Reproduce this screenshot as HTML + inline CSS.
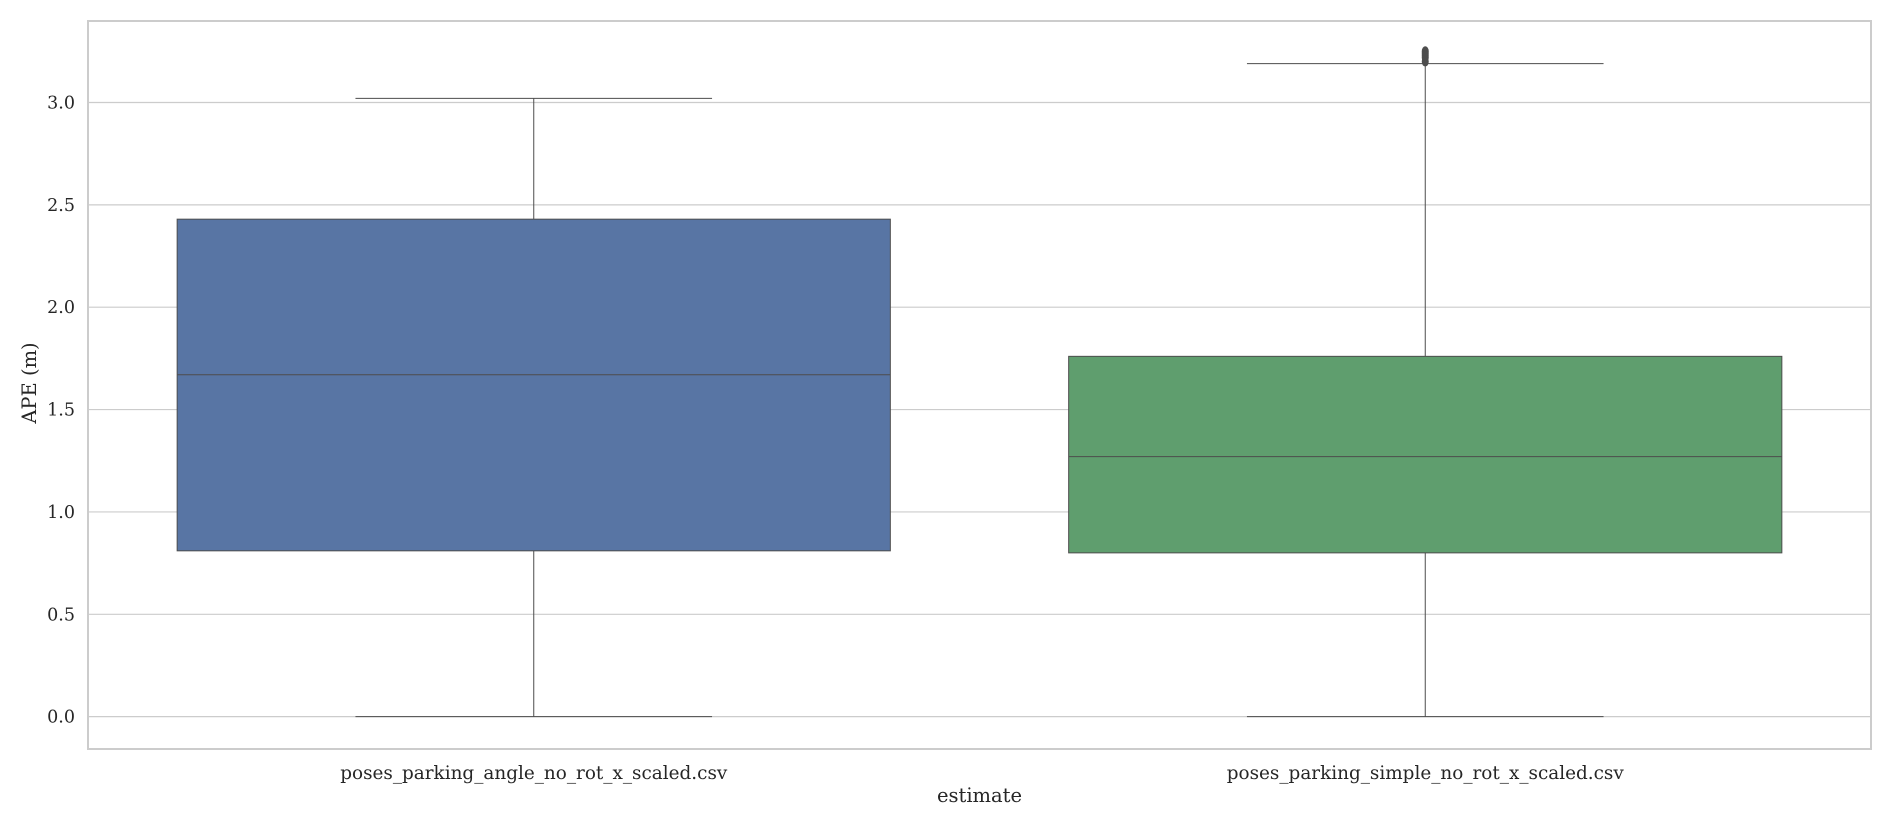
<!DOCTYPE html>
<html><head><meta charset="utf-8"><style>
html,body{margin:0;padding:0;background:#fff;}
svg{display:block;font-family:"DejaVu Serif","Liberation Serif",serif;}
</style></head><body>
<svg id="chart" width="1894" height="828" viewBox="0 0 1894 828" xmlns="http://www.w3.org/2000/svg"></svg>
<script>
const categories = ["poses_parking_angle_no_rot_x_scaled.csv", "poses_parking_simple_no_rot_x_scaled.csv"];
const q1Values = [0.81, 0.80];
const medianValues = [1.67, 1.27];
const q3Values = [2.43, 1.76];
const whiskerLow = [0.0, 0.0];
const whiskerHigh = [3.02, 3.19];
const outlierValues = [[], [3.20, 3.22, 3.23, 3.24, 3.25]];
const boxColors = ["#5875a4", "#5f9e6e"];
const yTicks = [0.0, 0.5, 1.0, 1.5, 2.0, 2.5, 3.0];

const svg = document.getElementById('chart');
const NS = 'http://www.w3.org/2000/svg';
const L = 88, R = 1871, T = 21, B = 749;
const yMin = -0.158, yMax = 3.398;
function yS(v){ return B - (v - yMin) / (yMax - yMin) * (B - T); }
const band = (R - L) / categories.length;
function xS(i){ return L + band * (i + 0.5); }
function mk(tag, attrs){ const e = document.createElementNS(NS, tag); for (const k in attrs) e.setAttribute(k, attrs[k]); svg.appendChild(e); return e; }

const frame = mk('rect', {x:L, y:T, width:R-L, height:B-T, fill:'#fff', stroke:'#cccccc', 'stroke-width':2});



yTicks.forEach(v => {
  const g = mk('line', {x1:L, x2:R, y1:yS(v), y2:yS(v), stroke:'#cccccc', 'stroke-width':1.2});
  
  
  const t = mk('text', {x:75, y:yS(v)+6, 'text-anchor':'end', 'font-size':17.5, fill:'#262626'});
  t.textContent = v.toFixed(1);
  
  
});

const bw = band * 0.8;
categories.forEach((c, i) => {
  const cx = xS(i);
  const line = (x1,y1,x2,y2,name) => { const l = mk('line', {x1, y1, x2, y2, stroke:'#4d4d4d', 'stroke-width':1});   };
  line(cx, yS(whiskerHigh[i]), cx, yS(q3Values[i]), 'upper-whisker');
  line(cx, yS(q1Values[i]), cx, yS(whiskerLow[i]), 'lower-whisker');
  line(cx - bw/4, yS(whiskerHigh[i]), cx + bw/4, yS(whiskerHigh[i]), 'upper-cap');
  line(cx - bw/4, yS(whiskerLow[i]), cx + bw/4, yS(whiskerLow[i]), 'lower-cap');
  const b = mk('rect', {x:cx-bw/2, y:yS(q3Values[i]), width:bw, height:yS(q1Values[i])-yS(q3Values[i]), fill:boxColors[i], stroke:'#4d4d4d', 'stroke-width':1});
  
  
  line(cx - bw/2, yS(medianValues[i]), cx + bw/2, yS(medianValues[i]), 'median-line');
  outlierValues[i].forEach(v => {
    const o = mk('ellipse', {cx:cx, cy:yS(v), rx:3.5, ry:5, fill:'#4d4d4d'});
    
    
  });
  const t = mk('text', {x:cx, y:779, 'text-anchor':'middle', 'font-size':18.4, fill:'#262626'});
  t.textContent = c;
  
  
});

const xl = mk('text', {x:(L+R)/2, y:802, 'text-anchor':'middle', 'font-size':19.5, fill:'#262626'});
xl.textContent = 'estimate';


const yl = mk('text', {x:0, y:0, 'text-anchor':'middle', 'font-size':19.5, fill:'#262626', transform:'translate(36,'+((T+B)/2 - 2)+') rotate(-90)'});
yl.textContent = 'APE (m)';


</script>
</body></html>
